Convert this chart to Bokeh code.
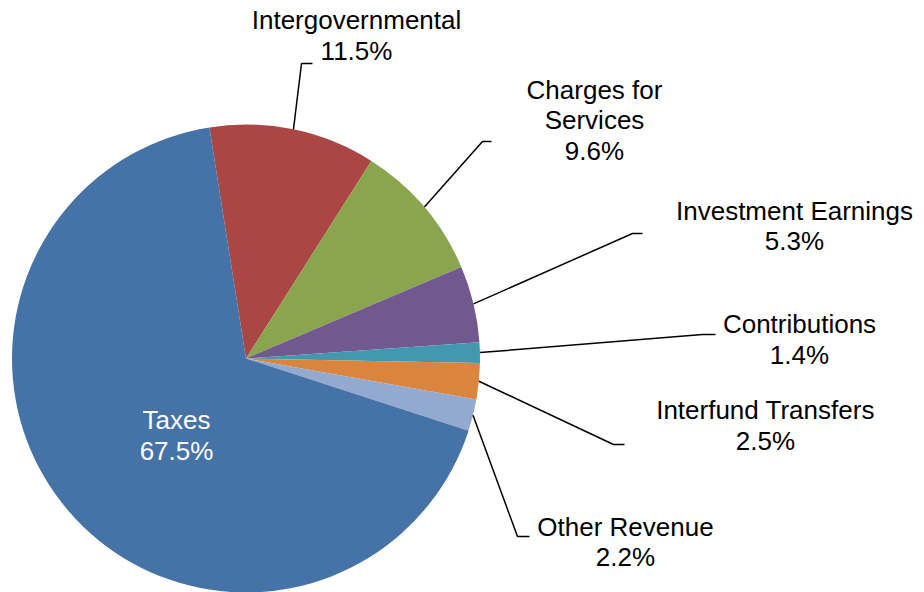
import math
from bokeh.plotting import figure
from bokeh.models import Range1d, ColumnDataSource
from bokeh.core.properties import value
from bokeh.embed import file_html
from bokeh.resources import INLINE

# ---------------- data ----------------
categories = ["Intergovernmental", "Charges for Services", "Investment Earnings",
              "Contributions", "Interfund Transfers", "Other Revenue", "Taxes"]
shares = [11.5, 9.6, 5.3, 1.4, 2.5, 2.2, 67.5]
colors = ["#AA4643", "#89A54E", "#71588F", "#4198AF", "#DB843D", "#93A9CF", "#4572A7"]
wrapped_names = {"Charges for Services": ["Charges for", "Services"]}

# ---------------- layout (pixels of the picture, y downward) ----------------
W, H = 924, 592
OX, OY = 0, 0            # picture offset of the canvas
CX, CY, R = 245.5, 358.0, 234.0
START_CW = -9.0          # degrees clockwise from 12 o'clock where the first slice starts
LINE_H = 30.5
TEXT_SHIFT = 8.5         # renderer places alphabetic baselines this much lower
FONT = "Liberation Sans"
FONT_SIZE = "26px"

# label centre x, first baseline y, leader elbow, leader end (None = no leader)
label_layout = {
    "Intergovernmental":    (356, 28.0,  (301, 63),  (312, 63)),
    "Charges for Services": (594, 97.7,  (482, 141), (491, 141)),
    "Investment Earnings":  (794, 218.5, (632, 233), (642, 233)),
    "Contributions":        (799, 332.0, (702, 334), (715, 334)),
    "Interfund Transfers":  (765, 418.0, (613, 444), (624, 444)),
    "Other Revenue":        (625, 534.5, (517, 536), (529, 536)),
    "Taxes":                (176, 428.0, None, None),
}
label_colors = {"Taxes": "white"}

p = figure(width=W, height=H, output_backend="svg", toolbar_location=None,
           x_range=Range1d(OX, OX + W), y_range=Range1d(-(OY + H), -OY),
           x_axis_location=None, y_axis_location=None, min_border=0,
           background_fill_color="white", border_fill_color="white")
p.grid.visible = False
p.outline_line_color = None

# wedges
total = sum(shares)
starts, ends, mids = [], [], []
c = START_CW
for s in shares:
    span = 360.0 * s / total
    c0, c1 = c, c + span
    # convert clockwise-from-top to counterclockwise-from-east (y up)
    starts.append(math.radians(90 - c1))
    ends.append(math.radians(90 - c0))
    mids.append((c0 + c1) / 2)
    c = c1

src = ColumnDataSource(dict(start=starts, end=ends, color=colors, cat=categories, share=shares))
p.wedge(x=CX, y=-CY, radius=R, start_angle="start", end_angle="end",
        fill_color="color", line_color=None, source=src)

# leader lines and labels
for cat, sh, mid in zip(categories, shares, mids):
    lx, ly, elbow, end = label_layout[cat]
    if elbow is not None:
        ax = CX + R * math.sin(math.radians(mid))
        ay = CY - R * math.cos(math.radians(mid))
        p.line(x=[ax, elbow[0], end[0]], y=[-ay, -elbow[1], -end[1]],
               line_color="black", line_width=1.5)
    lines = wrapped_names.get(cat, [cat]) + [f"{sh:.1f}%"]
    ys = [-(ly - TEXT_SHIFT + i * LINE_H) for i in range(len(lines))]
    p.text(x=[lx] * len(lines), y=ys, text=lines, text_align="center",
           text_baseline="alphabetic", text_font=value(FONT), text_font_size=FONT_SIZE,
           text_color=label_colors.get(cat, "black"))

open("out.html", "w").write(file_html(p, INLINE))
